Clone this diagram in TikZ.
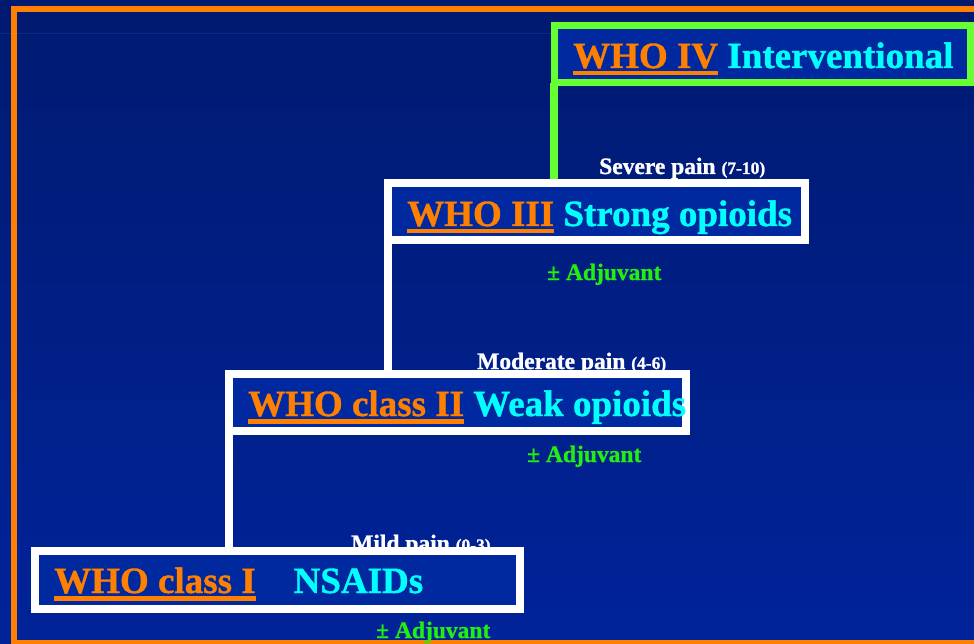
\documentclass[tikz,border=0pt]{standalone}
\usepackage{fontspec}
\setmainfont{Liberation Serif}
\newfontfamily\heavyfont{Liberation Serif}[UprightFont={* Bold}, FakeBold=1]
\definecolor{bgtop}{HTML}{001A70}
\definecolor{bgbot}{HTML}{00239A}
\definecolor{boxblue}{HTML}{0029A0}
\definecolor{whoorange}{HTML}{FF8000}
\definecolor{whocyan}{HTML}{00FFFF}
\definecolor{boxgreen}{HTML}{66FF33}
\definecolor{adjgreen}{HTML}{22EE11}
\definecolor{faint}{HTML}{092A88}
\newcommand\whoul[1]{\setbox0\hbox{#1}\rlap{\rule[-7.5pt]{\wd0}{4.5pt}}\box0}
\newcommand\bigfont{\fontsize{37}{40}\selectfont\heavyfont}
\newcommand\labfont{\fontsize{23.5}{26}\selectfont\heavyfont}
\newcommand\smallfont{\fontsize{17.5}{20}\selectfont}
\begin{document}
\begin{tikzpicture}[x=1pt,y=-1pt,
  whobox/.style={rectangle, draw=white, line width=8pt, fill=boxblue,
    inner sep=0pt, outer sep=0pt, minimum height=57.5pt},
  topbox/.style={whobox, draw=boxgreen, line width=7pt, minimum height=57pt},
  conn/.style={draw=white, line width=8pt},
  gconn/.style={draw=boxgreen, line width=8pt},
  boxtext/.style={anchor=base west, inner sep=0pt, font=\bigfont},
  painlabel/.style={anchor=base west, inner sep=0pt, text=white, font=\labfont},
  adjlabel/.style={anchor=base west, inner sep=0pt, text=adjgreen, font=\labfont}]
\useasboundingbox (0,0) rectangle (974,644);
\clip (0,0) rectangle (974,644);
% background
\shade[top color=bgtop, bottom color=bgbot] (0,0) rectangle (974,644);
\draw[faint, line width=1pt] (0,33.5) -- (974,33.5);
% orange frame
\draw[whoorange, line width=5.5pt] (990,9) -- (13.8,9) -- (13.8,642.5) -- (990,642.5);
% pain labels (partly hidden by the boxes)
\node[painlabel] (sev) at (599,174) {Severe pain {\smallfont(7-10)}};
\node[painlabel] (mod) at (477,369) {Moderate pain {\smallfont(4-6)}};
\node[painlabel] (mil) at (351,551) {Mild pain {\smallfont(0-3)}};
% box positions
\path (762.25,54.5) coordinate (c4)
      (596.5,211.75) coordinate (c3)
      (457.5,402.25) coordinate (c2)
      (277.25,579.75) coordinate (c1);
\node[topbox, minimum width=416.5pt] (b4) at (c4) {};
\node[whobox, minimum width=417pt] (b3) at (c3) {};
\node[whobox, minimum width=457pt] (b2) at (c2) {};
\node[whobox, minimum width=485.5pt] (b1) at (c1) {};
% connectors
\draw[gconn] (b4.south west) -- (b4.south west |- b3.north);
\draw[conn] (b3.south west) -- (b3.south west |- b2.north);
\draw[conn] (b2.south west) -- (b2.south west |- b1.north);
% redraw boxes over connectors
\node[topbox, minimum width=416.5pt] at (c4) {};
\node[whobox, minimum width=417pt] at (c3) {};
\node[whobox, minimum width=457pt] at (c2) {};
\node[whobox, minimum width=485.5pt] at (c1) {};
% box texts
\node[boxtext] (t4) at (573,68) {\textcolor{whoorange}{\whoul{WHO IV}} \textcolor{whocyan}{Interventional}};
\node[boxtext] (t3) at (407,226) {\textcolor{whoorange}{\whoul{WHO III}} \textcolor{whocyan}{Strong opioids}};
\node[boxtext] (t2) at (248,416) {\textcolor{whoorange}{\whoul{WHO class II}} \textcolor{whocyan}{Weak opioids}};
\node[boxtext] (t1) at (54,593) {\textcolor{whoorange}{\whoul{WHO class I}}\hspace{38pt}\textcolor{whocyan}{NSAIDs}};
% adjuvants
\node[adjlabel] (a3) at (547,280) {± Adjuvant};
\node[adjlabel] (a2) at (527,462) {± Adjuvant};
\node[adjlabel] (a1) at (376,638) {± Adjuvant};
\end{tikzpicture}
\end{document}
